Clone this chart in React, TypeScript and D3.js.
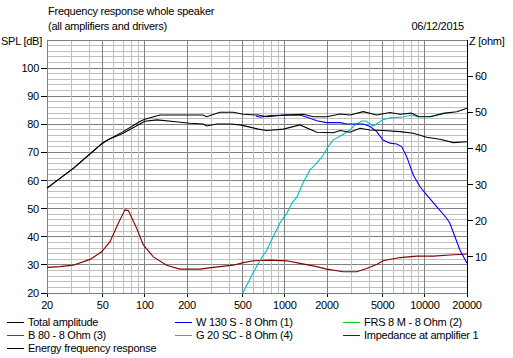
import React from 'react';
import * as d3 from 'd3';

// tick labels
const freqTicks = [20, 50, 100, 200, 500, 1000, 2000, 5000, 10000, 20000];
const splTicks = [20, 30, 40, 50, 60, 70, 80, 90, 100];
const zTicks = [10, 20, 30, 40, 50, 60];

// Total amplitude (SPL dB)
const totalFreq = [20, 31, 40, 50, 70, 92, 100, 128, 200, 260, 276, 344, 428, 505, 646, 742, 975, 1350, 1600, 1990, 2480, 2920, 3630, 4530, 5640, 6640, 8000, 9000, 11000, 13500, 16900, 20000];
const totalSpl = [57.3, 64.4, 69.2, 73.5, 77.4, 81.0, 81.8, 83.3, 83.3, 83.3, 82.7, 84.3, 84.3, 83.6, 83.3, 82.7, 83.3, 83.6, 82.7, 82.7, 83.7, 83.3, 84.5, 83.3, 84.2, 83.6, 84.0, 82.8, 82.7, 83.9, 84.5, 85.7];

// Energy frequency response (SPL dB)
const energyFreq = [20, 31, 40, 50, 55, 70, 92, 100, 122, 160, 210, 261, 276, 326, 406, 478, 564, 646, 742, 975, 1280, 1690, 2220, 2480, 2920, 3440, 4060, 5020, 6640, 8270, 10300, 12800, 16000, 20000];
const energySpl = [57.3, 64.4, 69.2, 73.3, 74.6, 76.8, 80.1, 81.1, 81.6, 81.0, 80.4, 80.1, 79.4, 80.1, 80.1, 79.8, 79.0, 78.3, 77.8, 78.3, 79.8, 77.2, 77.0, 77.8, 77.2, 78.6, 78.0, 77.8, 77.4, 76.8, 75.4, 74.7, 73.5, 73.8];

// W 130 S - 8 Ohm (1)
const wooferFreq = [620, 664, 783, 1280, 1510, 1690, 1990, 2480, 2770, 3630, 4060, 4530, 5020, 5640, 6290, 6830, 7420, 8270, 9230, 10300, 12150, 14300, 15100, 16400, 17800, 20000];
const wooferSpl = [83.0, 82.5, 83.1, 83.3, 82.2, 81.3, 80.6, 80.6, 80.1, 80.1, 79.2, 77.4, 74.4, 73.3, 73.0, 72.1, 68.5, 62.0, 57.8, 54.9, 50.7, 46.6, 44.8, 40.0, 35.3, 30.6];

// G 20 SC - 8 Ohm (4)
const tweeterFreq = [500, 546, 592, 643, 687, 745, 823, 923, 1036, 1125, 1221, 1348, 1512, 1642, 1842, 2033, 2208, 2561, 2920, 3170, 3557, 3800, 4264, 5024, 5636, 6982, 8094, 8934, 10882, 13256, 14394];
const tweeterSpl = [20, 23.6, 27.1, 30.3, 32.8, 35.3, 39.9, 44.9, 48.5, 52.0, 54.2, 59.1, 63.8, 65.6, 68.4, 72.0, 74.4, 76.2, 78.0, 79.8, 81.2, 81.2, 79.4, 81.6, 82.3, 82.6, 83.3, 82.6, 82.8, 83.7, 84.1];

// FRS 8 M and B 80 sit at the floor
const fullrangeFreq = [20, 20000];
const fullrangeSpl = [20, 20];
const bassFreq = [20, 20000];
const bassSpl = [20, 20];

// Impedance at amplifier 1 (ohm)
const impFreq = [20, 24.8, 30.8, 40.6, 49.2, 56.4, 64.6, 72.1, 76.2, 87.4, 97.5, 115, 143, 178, 248, 308, 428, 505, 595, 783, 1031, 1283, 1688, 1990, 2614, 3260, 3842, 4530, 5024, 6644, 8744, 11488, 15120, 20000];
const impZ = [7.1, 7.3, 7.7, 9.3, 11.4, 14.2, 19.3, 23.0, 22.8, 17.9, 13.3, 10.0, 7.7, 6.6, 6.6, 7.1, 7.7, 8.4, 8.9, 9.1, 8.9, 8.2, 7.3, 6.6, 5.9, 5.9, 6.8, 7.9, 8.9, 9.8, 10.2, 10.2, 10.5, 10.8];

const legendLabels = ['Total amplitude', 'W 130 S - 8 Ohm (1)', 'FRS 8 M - 8 Ohm (2)', 'B 80 - 8 Ohm (3)', 'G 20 SC - 8 Ohm (4)', 'Impedance at amplifier 1', 'Energy frequency response'];
const legendColors = ['#000000', '#0000ff', '#00d000', '#ff0000', '#00c0c0', '#800000', '#000000'];

const W = 513;
const H = 358;
const left = 47, right = 467, top = 40, bottom = 293;
const font = 'Liberation Sans, Arial, sans-serif';

const zip = (a: number[], b: number[]) => a.map((v, i) => [v, b[i]] as [number, number]);

export default function App() {
  const x = d3.scaleLog().domain([20, 20000]).range([left, right]);
  const ySpl = d3.scaleLinear().domain([20, 110]).range([bottom, top]);
  const yZ = d3.scaleLinear().domain([0, 70]).range([bottom, top]);

  const splLine = d3.line<[number, number]>().x(d => x(d[0])).y(d => ySpl(d[1]));
  const zLine = d3.line<[number, number]>().x(d => x(d[0])).y(d => yZ(d[1]));
  const floorLine = d3.line<[number, number]>().x(d => x(d[0])).y(d => Math.floor(ySpl(d[1])) + 0.5);

  const px = (v: number) => Math.floor(v) + 0.5;

  // vertical grid
  const minorF: number[] = [];
  [10, 100, 1000, 10000].forEach(dec => {
    for (let k = 1; k <= 9; k++) {
      const f = k * dec;
      if (f > 20 && f < 20000 && !freqTicks.includes(f)) minorF.push(f);
    }
  });
  const hLines = d3.range(22, 110, 2);

  return (
    <svg width={W} height={H} style={{ position: 'absolute', left: 0, top: 0, background: '#fff' }}
      fontFamily={font} fontSize={11} letterSpacing={-0.25}>
      <rect x={0} y={0} width={W} height={H} fill="#fff" />
      <g shapeRendering="crispEdges" strokeWidth={1}>
        {hLines.map(v => (
          <line key={'h' + v} x1={left} x2={right} y1={px(ySpl(v))} y2={px(ySpl(v))}
            stroke={v % 10 === 0 ? '#808080' : '#c0c0c0'} />
        ))}
        {minorF.map(f => (
          <line key={'v' + f} x1={px(x(f))} x2={px(x(f))} y1={top} y2={bottom} stroke="#c0c0c0" />
        ))}
        {freqTicks.map(f => (
          <line key={'V' + f} x1={px(x(f))} x2={px(x(f))} y1={top} y2={bottom} stroke="#808080" />
        ))}
        <line x1={left} x2={right} y1={px(top)} y2={px(top)} stroke="#808080" />
        <line x1={px(right)} x2={px(right)} y1={top} y2={bottom + 1} stroke="#000" />
        {/* ticks */}
        {splTicks.map(v => (
          <line key={'ts' + v} x1={left - 6} x2={left} y1={px(ySpl(v))} y2={px(ySpl(v))} stroke="#000" />
        ))}
        {zTicks.map(v => (
          <line key={'tz' + v} x1={right} x2={right + 6} y1={px(yZ(v))} y2={px(yZ(v))} stroke="#000" />
        ))}
        {freqTicks.map(f => (
          <line key={'tf' + f} x1={px(x(f))} x2={px(x(f))} y1={bottom} y2={bottom + 4} stroke="#000" />
        ))}
      </g>

      <g fill="none" strokeWidth={1}>
        <path d={floorLine(zip(bassFreq, bassSpl)) || ''} stroke="#ff0000" shapeRendering="crispEdges" />
        <path d={floorLine(zip(fullrangeFreq, fullrangeSpl)) || ''} stroke="#00d000" shapeRendering="crispEdges" />
        <path d={zLine(zip(impFreq, impZ)) || ''} stroke="#800000" strokeWidth={1.1} />
        <path d={splLine(zip(tweeterFreq, tweeterSpl)) || ''} stroke="#00c0c0" strokeWidth={1.1} />
        <path d={splLine(zip(wooferFreq, wooferSpl)) || ''} stroke="#0000ff" strokeWidth={1.1} />
        <path d={splLine(zip(energyFreq, energySpl)) || ''} stroke="#000" strokeWidth={1.1} />
        <path d={splLine(zip(totalFreq, totalSpl)) || ''} stroke="#000" strokeWidth={1.1} />
      </g>

      {/* axis labels */}
      {splTicks.map(v => (
        <text key={'ls' + v} x={39} y={ySpl(v) + 4} textAnchor="end">{v}</text>
      ))}
      {zTicks.map(v => (
        <text key={'lz' + v} x={475} y={yZ(v) + 4}>{v}</text>
      ))}
      {freqTicks.map(f => (
        <text key={'lf' + f} x={x(f)} y={309} textAnchor="middle">{f}</text>
      ))}

      <text x={48} y={15}>Frequency response whole speaker</text>
      <text x={48} y={30}>(all amplifiers and drivers)</text>
      <text x={464} y={30} textAnchor="end">06/12/2015</text>
      <text x={1} y={45}>SPL [dB]</text>
      <text x={469} y={45}>Z [ohm]</text>

      {/* legend */}
      {legendLabels.map((label, i) => {
        const col = i % 3;
        const row = Math.floor(i / 3);
        const lx = [7, 175, 343][col];
        const ly = 322 + row * 13;
        return (
          <g key={label}>
            <line x1={lx} x2={lx + 17} y1={ly + 0.5} y2={ly + 0.5} stroke={legendColors[i]} shapeRendering="crispEdges" />
            <text x={lx + 21} y={ly + 4}>{label}</text>
          </g>
        );
      })}
    </svg>
  );
}
